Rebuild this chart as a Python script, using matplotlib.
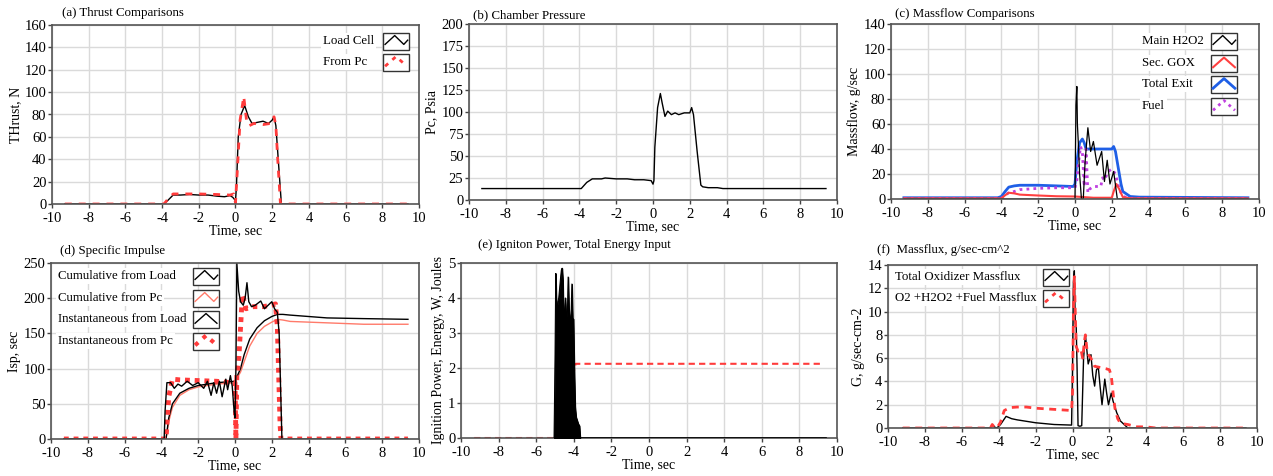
import numpy as np
import matplotlib
matplotlib.use('Agg')
import matplotlib.pyplot as plt
from matplotlib.lines import Line2D
from matplotlib.patches import Rectangle

plt.rcParams['font.family'] = ['Liberation Serif', 'DejaVu Serif']
plt.rcParams['font.size'] = 9.5
plt.rcParams['axes.unicode_minus'] = False

# ---- (a) thrust ----
t_lc = [-9.3, -3.9, -3.7, -3.4, -3.0, -2.5, -2.0, -1.5, -1.0, -0.6, -0.3, -0.15, 0.0, 0.05, 0.15, 0.3, 0.5, 0.7, 0.9, 1.2, 1.5, 1.8, 2.0, 2.1, 2.2, 2.35, 2.5, 2.6, 9.4]
load_cell = [0, 0, 3, 8, 8, 8.5, 8, 8, 7, 6.5, 7.5, 6, 3, 15, 60, 80, 88, 78, 72, 73, 74, 72, 75, 78, 70, 35, 0, 0, 0]
t_fp = [-9.3, -3.9, -3.7, -3.4, -3.0, -2.0, -1.0, -0.3, -0.1, 0.0, 0.1, 0.25, 0.45, 0.6, 0.75, 1.0, 1.5, 1.9, 2.1, 2.2, 2.3, 2.45, 9.4]
from_pc = [0, 0, 4, 9, 9, 9, 8.5, 8, 9, 1, 30, 75, 96, 75, 70, 72, 71, 72, 78, 70, 40, 0, 0]

# ---- (b) chamber pressure ----
t_pcb = [-9.3, -3.9, -3.6, -3.3, -2.8, -2.6, -2.0, -1.4, -1.0, -0.5, -0.1, 0.0, 0.05, 0.1, 0.25, 0.4, 0.5, 0.65, 0.8, 1.0, 1.2, 1.4, 1.7, 2.0, 2.1, 2.2, 2.4, 2.6, 2.7, 3.0, 3.5, 3.8, 9.4]
pc_psia = [13, 13, 20, 24, 24, 25, 24, 24, 23, 23, 22, 18, 22, 60, 105, 121, 110, 95, 101, 97, 99, 97, 99, 99, 105, 97, 55, 17, 15, 14, 14, 13, 13]

# ---- (c) massflow ----
t_h2o2 = [-9.3, 0.0, 0.05, 0.1, 0.13, 0.18, 0.25, 0.35, 0.45, 0.55, 0.7, 0.85, 1.0, 1.2, 1.45, 1.6, 1.75, 1.9, 2.1, 2.3, 2.5, 9.4]
main_h2o2 = [0, 0, 75, 90, 60, 45, 20, 0, 0, 30, 57, 38, 46, 27, 38, 14, 31, 12, 22, 0, 0, 0]
t_gox = [-9.3, -4.0, -3.8, -3.6, -3.3, -3.0, -2.0, -1.0, 0.0, 0.5, 1.0, 2.0, 2.1, 2.25, 2.4, 2.6, 3.0, 9.4]
sec_gox = [0.5, 0.5, 3, 5, 4.5, 3.5, 2.8, 2.2, 2, 1.5, 1, 1, 6, 12, 8, 1.5, 0.5, 0.5]
t_exit = [-9.3, -4.2, -4.0, -3.8, -3.6, -3.3, -3.0, -2.0, -1.0, -0.1, 0.0, 0.1, 0.25, 0.4, 0.5, 0.6, 0.8, 1.2, 1.6, 2.0, 2.1, 2.2, 2.35, 2.5, 2.6, 2.8, 3.0, 3.5, 9.4]
total_exit = [1, 1, 2, 6, 9.5, 10.5, 11, 11, 10.5, 10, 12, 30, 45, 48, 45, 40, 40, 40, 40, 40, 42, 38, 25, 12, 6, 4, 2, 1.5, 1]
t_fuel = [-9.3, -4.0, -3.8, -3.6, -3.3, -3.0, -2.0, -1.0, 0.0, 0.1, 0.2, 0.3, 0.4, 0.5, 0.6, 0.7, 0.8, 1.0, 1.2, 1.4, 1.5, 1.6, 1.8, 2.0, 2.2, 2.4, 2.6, 3.0, 9.4]
fuel = [0.5, 0.5, 3, 5, 6, 7.5, 8.5, 9, 9, 15, 30, 42, 38, 10, 40, 5, 8, 10, 10, 10, 17, 15, 22, 24, 20, 8, 2, 0.5, 0.5]

# ---- (d) specific impulse ----
t_cum = [-9.3, -3.75, -3.6, -3.4, -3.0, -2.5, -2.0, -1.0, 0.0, 0.1, 0.3, 0.5, 0.8, 1.2, 1.6, 2.0, 2.3, 2.6, 3.0, 4.0, 5.0, 7.0, 9.4]
cum_load = [0, 0, 30, 50, 65, 72, 76, 80, 82, 88, 100, 120, 142, 158, 168, 174, 177, 177, 176, 174, 172, 171, 170]
cum_pc = [0, 0, 25, 45, 62, 70, 74, 78, 80, 86, 95, 110, 132, 150, 160, 166, 170, 169, 167, 166, 165, 163, 163]
t_il = [-9.3, -3.85, -3.8, -3.7, -3.5, -3.3, -3.1, -2.9, -2.6, -2.3, -2.0, -1.7, -1.5, -1.3, -1.15, -1.0, -0.85, -0.7, -0.5, -0.4, -0.25, -0.15, -0.05, 0.0, 0.05, 0.1, 0.2, 0.3, 0.45, 0.55, 0.65, 0.75, 0.9, 1.1, 1.4, 1.6, 1.8, 2.0, 2.15, 2.3, 2.4, 2.5, 2.55, 9.4]
inst_load = [0, 0, 40, 80, 80, 72, 78, 75, 82, 76, 80, 72, 82, 62, 80, 65, 82, 60, 85, 70, 90, 75, 40, 30, 100, 250, 210, 195, 190, 200, 222, 195, 188, 190, 196, 185, 190, 195, 185, 180, 150, 50, 0, 0]
t_ip = [-9.3, -3.75, -3.6, -3.4, -3.0, -2.0, -1.0, -0.2, 0.0, 0.05, 0.1, 0.2, 0.4, 0.6, 1.0, 1.5, 2.0, 2.2, 2.3, 2.45, 2.5, 9.4]
inst_pc = [0, 0, 60, 85, 84, 83, 82, 80, 80, 0, 90, 110, 205, 185, 188, 188, 190, 192, 160, 20, 0, 0]

# ---- (e) ignition power / energy ----
t_pw = [-5.05, -5.0, -4.96, -4.93, -4.9, -4.85, -4.8, -4.75, -4.7, -4.66, -4.62, -4.58, -4.54, -4.5, -4.45, -4.4, -4.35, -4.3, -4.26, -4.2, -4.15, -4.1, -4.06, -4.02, -3.98, -3.93, -3.88, -3.82, -3.76, -3.7, -3.66]
power = [0, 2.2, 4.7, 3.9, 3.6, 3.9, 4.0, 4.3, 4.6, 4.8, 4.85, 4.5, 3.1, 3.6, 4.0, 3.4, 3.3, 4.6, 3.7, 3.4, 3.4, 4.4, 3.4, 3.4, 2.1, 0.9, 0.6, 0.5, 0.4, 0.35, 0]
t_pw_base = [-3.66, 9.4]
pw_base = [0, 0]
t_en = [-9.3, -5.0, -4.5, -4.0, -3.9, 9.3]
energy = [0, 0, 1.0, 1.9, 2.12, 2.12]

# ---- (f) massflux ----
t_ox = [-9.2, -4.45, -4.35, -4.25, -4.1, -3.9, -3.6, -3.3, -3.0, -2.0, -1.0, -0.05, 0.0, 0.05, 0.1, 0.15, 0.2, 0.25, 0.3, 0.4, 0.5, 0.6, 0.7, 0.85, 1.0, 1.1, 1.2, 1.3, 1.4, 1.5, 1.6, 1.75, 1.85, 1.95, 2.1, 2.2, 2.4, 2.6, 2.8, 3.0, 9.4]
ox_flux = [0, 0, 0.3, 0.1, 0, 0.3, 1.0, 0.8, 0.7, 0.45, 0.3, 0.25, 5, 12.5, 13.5, 9, 8.8, 5, 0.2, 0.15, 0.2, 6, 8, 5.5, 6.3, 4.5, 3.6, 5.0, 5.2, 3.5, 2.0, 4.2, 3.0, 2.0, 3.0, 2.3, 1.3, 0.6, 0.3, 0, 0]
t_tot = [-9.2, -4.45, -4.35, -4.25, -4.1, -3.9, -3.7, -3.4, -3.0, -2.5, -2.0, -1.5, -1.0, -0.5, -0.05, 0.0, 0.05, 0.1, 0.15, 0.2, 0.3, 0.45, 0.55, 0.65, 0.7, 0.8, 0.9, 1.0, 1.2, 1.5, 1.8, 2.0, 2.1, 2.2, 2.3, 2.45, 2.6, 3.0, 3.5, 4.0, 4.5, 9.4]
tot_flux = [0, 0, 0.3, 0.1, 0, 0.5, 1.5, 1.75, 1.8, 1.8, 1.7, 1.65, 1.6, 1.55, 1.5, 3, 10, 13, 10, 7, 6.6, 6.8, 6.0, 7.5, 8, 6.5, 6.2, 6.0, 5.3, 5.2, 5.1, 5.0, 4.5, 3.0, 1.7, 0.8, 0.4, 0.3, 0.1, 0.1, 0, 0]

W, H = 1273, 476
RED = '#ff3b3b'


def px(x, y):
    return x / W, 1 - y / H


def make_ax(fig, left, right, top, bottom, ylim, ystep, ylabel):
    ax = fig.add_axes([left / W, 1 - bottom / H, (right - left) / W, (bottom - top) / H])
    ax.set_xlim(-10, 10)
    ax.set_ylim(*ylim)
    ax.set_xticks(np.arange(-10, 11, 2))
    ax.set_yticks(np.arange(ylim[0], ylim[1] + ystep / 2, ystep))
    ax.grid(True, color='#dadada', lw=1)
    ax.set_axisbelow(True)
    for s in ax.spines.values():
        s.set_color('#555555')
        s.set_linewidth(1.2)
    ax.tick_params(length=3, width=1, color='#444444', labelsize=10.5)
    ax.tick_params(axis='x', pad=2.5)
    ax.tick_params(axis='y', pad=1)
    ax.set_xlabel('Time, sec', labelpad=0, fontsize=10)
    ax.set_ylabel(ylabel, labelpad=2, fontsize=10)
    return ax


def legend(fig, x_text, x_box, rows, labels, styles, box_w=26, box_h=17):
    for y, lab, st in zip(rows, labels, styles):
        fig.text(*px(x_text, y), lab, ha='left', va='center', fontsize=9.3,
                 bbox=dict(facecolor='white', edgecolor='none', pad=1.5))
        bx, by = px(x_box, y + box_h / 2)
        fig.add_artist(Rectangle((bx, by), box_w / W, box_h / H, transform=fig.transFigure,
                                 facecolor='white', edgecolor='#333333', lw=1))
        if st.get('zig'):
            fx = [0.08, 0.45, 0.8, 0.95]
            fy = [0.3, 0.82, 0.3, 0.55]
        else:
            fx = [0.08, 0.5, 0.92]
            fy = [0.25, 0.82, 0.25]
        xs = [bx + f * box_w / W for f in fx]
        ys = [by + f * box_h / H for f in fy]
        fig.add_artist(Line2D(xs, ys, transform=fig.transFigure, color=st['color'],
                              lw=st.get('lw', 1), ls=st.get('ls', '-')))


fig = plt.figure(figsize=(12.73, 4.76), dpi=100)

# (a)
ax = make_ax(fig, 52, 419, 25, 204, (0, 160), 20, 'THrust, N')
ax.plot(t_lc, load_cell, color='black', lw=1)
ax.plot(t_fp, from_pc, color=RED, lw=2, ls=(0, (2.5, 2.5)))
fig.text(*px(62, 13), '(a) Thrust Comparisons', va='center', fontsize=9.3)
legend(fig, 323, 383, [41, 62], ['Load Cell', 'From Pc'],
       [dict(color='black', zig=True), dict(color=RED, lw=2, ls=(0, (1.5, 2)))])

# (b)
ax = make_ax(fig, 469, 837, 24, 200, (0, 200), 25, 'Pc, Psia')
ax.plot(t_pcb, pc_psia, color='black', lw=1)
fig.text(*px(473, 15), '(b) Chamber Pressure', va='center', fontsize=9.3)

# (c)
ax = make_ax(fig, 891, 1259, 24, 199, (0, 140), 20, 'Massflow, g/sec')
ax.plot(t_exit, total_exit, color='#1f5fe6', lw=2)
ax.plot(t_fuel, fuel, color='#c040e0', lw=2, ls=(0, (1, 1.5)))
ax.plot(t_gox, sec_gox, color='#ff4040', lw=1.5)
ax.plot(t_h2o2, main_h2o2, color='black', lw=0.9)
fig.text(*px(895, 14), '(c) Massflow Comparisons', va='center', fontsize=9.3)
legend(fig, 1142, 1211, [41, 63, 84, 106], ['Main H2O2', 'Sec. GOX', 'Total Exit', 'Fuel'],
       [dict(color='black', zig=True), dict(color='#ff4040', lw=1.5),
        dict(color='#1f5fe6', lw=2), dict(color='#c040e0', lw=2, ls=(0, (1, 1.5)))])

# (d)
ax = make_ax(fig, 51, 419, 263, 439, (0, 250), 50, 'Isp, sec')
ax.plot(t_cum, cum_pc, color='#ff7a6a', lw=1)
ax.plot(t_cum, cum_load, color='black', lw=1)
ax.plot(t_ip, inst_pc, color=RED, lw=3.5, ls=(0, (1, 1)))
ax.plot(t_il, inst_load, color='black', lw=1)
fig.text(*px(60, 251), '(d) Specific Impulse', va='center', fontsize=9.3)
legend(fig, 58, 193, [276, 298, 319, 341],
       ['Cumulative from Load', 'Cumulative from Pc', 'Instantaneous from Load', 'Instantaneous from Pc'],
       [dict(color='black', zig=True), dict(color='#ff7a6a', zig=True),
        dict(color='black'), dict(color=RED, lw=3, ls=(0, (1, 1.5)))])

# (e)
ax = make_ax(fig, 461, 837, 263, 438, (0, 5), 1, 'Ignition Power, Energy, W, Joules')
ax.plot(t_en, energy, color=RED, lw=1.5, ls=(0, (3, 2)), zorder=2)
ax.fill_between(t_pw, 0, power, color='black', lw=0.8, zorder=3)
ax.plot(t_pw, power, color='black', lw=0.8, zorder=3)
ax.plot(t_pw_base, pw_base, color='black', lw=1.2, zorder=3)
fig.text(*px(478, 245), '(e) Igniton Power, Total Energy Input', va='center', fontsize=9.3)

# (f)
ax = make_ax(fig, 888, 1257, 265, 428, (0, 14), 2, 'G, g/sec-cm-2')
ax.plot(t_ox, ox_flux, color='black', lw=1)
ax.plot(t_tot, tot_flux, color=RED, lw=2, ls=(0, (2.5, 2)))
fig.text(*px(877, 250), '(f)  Massflux, g/sec-cm^2', va='center', fontsize=9.3)
legend(fig, 895, 1043, [277, 298], ['Total Oxidizer Massflux', 'O2 +H2O2 +Fuel Massflux'],
       [dict(color='black', zig=True), dict(color=RED, lw=2, ls=(0, (1.5, 2)))])

fig.savefig('out.png', dpi=100)
